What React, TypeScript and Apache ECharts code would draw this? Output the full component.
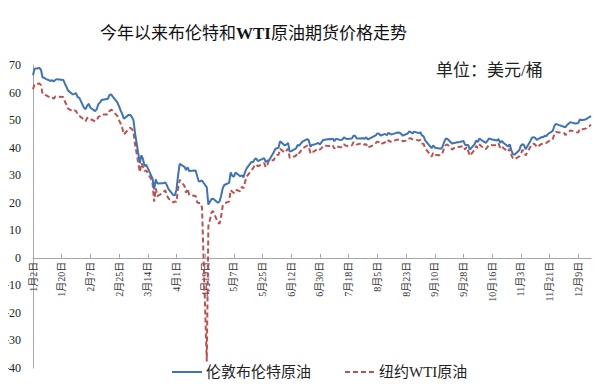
import React, { useEffect, useRef } from "react";
import * as echarts from "echarts";

const tradeDates: string[] = [
  "1-2","1-3","1-6","1-7","1-8","1-9","1-10","1-13","1-14","1-15","1-16","1-17","1-21","1-22","1-23","1-24","1-27","1-28","1-29","1-30","1-31",
  "2-3","2-4","2-5","2-6","2-7","2-10","2-11","2-12","2-13","2-14","2-18","2-19","2-20","2-21","2-24","2-25","2-26","2-27","2-28",
  "3-2","3-3","3-4","3-5","3-6","3-9","3-10","3-11","3-12","3-13","3-16","3-17","3-18","3-19","3-20","3-23","3-24","3-25","3-26","3-27","3-30","3-31",
  "4-1","4-2","4-3","4-6","4-7","4-8","4-9","4-13","4-14","4-15","4-16","4-17","4-20","4-21","4-22","4-23","4-24","4-27","4-28","4-29","4-30",
  "5-1","5-4","5-5","5-6","5-7","5-8","5-11","5-12","5-13","5-14","5-15","5-18","5-19","5-20","5-21","5-22","5-26","5-27","5-28","5-29",
  "6-1","6-2","6-3","6-4","6-5","6-8","6-9","6-10","6-11","6-12","6-15","6-16","6-17","6-18","6-19","6-22","6-23","6-24","6-25","6-26","6-29","6-30",
  "7-1","7-2","7-6","7-7","7-8","7-9","7-10","7-13","7-14","7-15","7-16","7-17","7-20","7-21","7-22","7-23","7-24","7-27","7-28","7-29","7-30","7-31",
  "8-3","8-4","8-5","8-6","8-7","8-10","8-11","8-12","8-13","8-14","8-17","8-18","8-19","8-20","8-21","8-24","8-25","8-26","8-27","8-28","8-31",
  "9-1","9-2","9-3","9-4","9-8","9-9","9-10","9-11","9-14","9-15","9-16","9-17","9-18","9-21","9-22","9-23","9-24","9-25","9-28","9-29","9-30",
  "10-1","10-2","10-5","10-6","10-7","10-8","10-9","10-12","10-13","10-14","10-15","10-16","10-19","10-20","10-21","10-22","10-23","10-26","10-27","10-28","10-29","10-30",
  "11-2","11-3","11-4","11-5","11-6","11-9","11-10","11-11","11-12","11-13","11-16","11-17","11-18","11-19","11-20","11-23","11-24","11-25","11-27","11-30",
  "12-1","12-2","12-3","12-4","12-7","12-8","12-9","12-10","12-11","12-14","12-15","12-16","12-17",
];

const brentPrices: number[] = [
  66.25,68.6,68.91,68.27,65.44,65.37,64.98,64.2,64.49,64.0,64.62,64.85,64.59,63.21,62.04,60.69,59.32,59.51,59.81,58.29,58.16,
  54.45,53.96,55.28,55.93,54.47,53.27,54.01,55.79,56.34,57.32,57.75,59.12,59.31,58.5,56.3,54.95,53.43,52.18,50.52,
  51.9,51.86,51.13,49.99,45.27,34.36,37.22,35.79,33.22,33.85,30.05,28.73,24.88,28.47,26.98,27.03,27.15,27.39,26.34,24.93,22.76,22.74,
  24.74,29.94,34.11,33.05,31.87,32.84,31.48,31.74,29.6,27.69,27.82,28.08,25.57,19.33,20.37,21.33,21.44,19.99,20.46,22.54,25.27,
  26.44,27.2,30.97,29.72,29.46,30.97,29.63,29.98,29.19,31.13,32.5,34.81,34.65,35.75,36.06,35.13,36.17,34.74,35.29,35.33,
  38.32,39.57,39.79,39.99,42.3,40.8,41.18,41.73,38.55,38.73,39.72,40.96,40.71,41.51,42.19,43.08,42.63,40.31,41.05,41.02,41.71,41.15,
  42.03,42.8,43.1,43.08,43.29,42.35,43.24,42.72,42.9,43.79,43.37,43.14,43.28,44.32,44.29,43.31,43.34,43.41,43.22,43.75,42.94,43.3,
  44.15,44.43,45.17,45.09,44.4,44.99,44.5,45.43,44.96,44.8,45.37,45.46,45.37,44.9,44.35,45.13,45.86,45.64,45.09,45.81,45.28,
  45.58,44.43,44.07,42.66,39.78,40.79,40.06,39.83,39.61,40.53,42.22,43.3,43.15,41.44,41.72,41.77,41.94,41.92,42.43,41.03,40.95,
  40.93,39.27,41.29,42.65,41.99,43.34,42.85,41.72,42.45,43.32,43.16,42.93,42.62,43.16,41.73,42.46,41.77,40.46,41.2,39.12,37.65,37.46,
  39.01,40.71,41.23,40.93,39.45,42.4,43.61,43.8,43.53,42.78,43.82,43.75,44.34,44.2,44.96,46.06,47.86,48.61,48.18,47.59,
  47.42,48.25,48.71,49.25,48.79,48.84,48.86,50.25,49.97,50.29,50.76,51.08,51.5,
];

const wtiPrices: number[] = [
  61.18,63.05,63.27,62.7,59.61,59.56,59.04,58.08,58.23,57.81,58.52,58.54,58.38,56.74,55.59,54.19,53.14,53.48,53.33,52.14,51.56,
  50.11,49.61,50.75,50.95,50.32,49.57,49.94,51.17,51.42,52.05,52.05,53.29,53.78,53.38,51.43,49.9,48.73,47.09,44.76,
  46.75,47.18,46.78,45.9,41.28,31.13,34.36,32.98,31.5,31.73,28.7,26.95,20.37,25.22,22.43,23.36,24.01,24.49,22.6,21.51,20.09,20.48,
  20.31,25.32,28.34,26.08,23.63,25.09,22.76,22.41,20.11,19.87,19.87,18.27,-37.63,11.57,13.78,16.5,16.94,12.78,12.34,15.06,18.84,
  19.78,20.39,24.56,23.99,23.55,24.74,24.14,25.78,25.29,27.56,29.43,31.82,32.5,33.49,33.92,33.25,34.35,32.81,33.71,35.49,
  35.44,36.81,37.29,37.41,39.55,38.19,38.94,39.6,36.34,36.26,37.12,38.38,37.96,38.84,39.75,40.73,40.37,38.01,38.72,38.49,39.7,39.27,
  39.82,40.65,40.63,40.62,40.9,39.62,40.55,40.1,40.29,41.2,40.75,40.59,40.81,41.96,41.9,41.07,41.29,41.6,41.04,41.27,39.92,40.27,
  41.01,41.7,42.19,41.95,41.22,41.94,41.61,42.67,42.24,42.01,42.89,42.89,42.93,42.82,42.34,42.62,43.35,43.39,43.04,42.97,42.61,
  42.76,41.51,41.37,39.77,36.76,38.05,37.3,37.33,37.26,38.28,40.16,40.97,41.11,39.31,39.8,39.93,40.31,40.25,40.6,39.29,40.22,
  38.72,37.05,39.22,40.67,39.95,41.19,40.6,39.43,40.2,41.04,40.96,40.88,40.83,41.46,40.03,40.64,39.85,38.56,39.57,37.39,36.17,35.79,
  36.81,37.66,39.15,38.79,37.14,40.29,41.36,41.45,41.12,40.13,41.34,41.43,41.82,41.74,42.15,43.06,44.91,45.71,45.53,45.34,
  44.55,45.28,45.64,46.26,45.76,45.6,45.52,46.78,46.57,46.99,47.62,47.82,48.36,
];

const seriesNames = ["伦敦布伦特原油", "纽约WTI原油"];
const titleText = "今年以来布伦特和WTI原油期货价格走势";
const unitText = "单位：美元/桶";
const yTicks = { min: -40, max: 70, interval: 10 };
const xTickStep = 18; // days between date labels
const xEndDate = "12-17";

const YEAR = 2020;
const dayOffset = (md: string) => {
  const [m, d] = md.split("-").map(Number);
  return Math.round((Date.UTC(YEAR, m - 1, d) - Date.UTC(YEAR, 0, 2)) / 86400000);
};
const offsetLabel = (off: number) => {
  const dt = new Date(Date.UTC(YEAR, 0, 2 + off));
  return `${dt.getUTCMonth() + 1}月${dt.getUTCDate()}日`;
};

const SERIF = "'Liberation Serif', 'Noto Sans CJK SC', serif";
const BLUE = "#3e73b9";
const RED = "#c0504d";

const W = 605;
const H = 388;
const GRID = { left: 33, right: 14, top: 65, bottom: 20 };

export default function App() {
  const ref = useRef<HTMLDivElement>(null);
  useEffect(() => {
    if (!ref.current) return;
    const chart = echarts.init(ref.current, null, { renderer: "svg" });
    const xMax = dayOffset(xEndDate);
    const tickVals: number[] = [];
    for (let v = 0; v <= xMax; v += xTickStep) tickVals.push(v);
    const brentData = tradeDates.map((d, i) => [dayOffset(d), brentPrices[i]]);
    const wtiData = tradeDates.map((d, i) => [dayOffset(d), wtiPrices[i]]);
    const parts = titleText.split("WTI");
    const plotH = H - GRID.top - GRID.bottom;
    const zeroFromBottom = ((0 - yTicks.min) / (yTicks.max - yTicks.min)) * plotH;
    const legendY = 372;
    chart.setOption({
      animation: false,
      backgroundColor: "#ffffff",
      title: {
        text: `{a|${parts[0]}}{b|WTI}{a|${parts[1]}}`,
        left: 95,
        top: 20,
        textStyle: {
          rich: {
            a: { fontSize: 17, fontFamily: SERIF, color: "#111", fontWeight: "normal" },
            b: { fontSize: 17, fontFamily: SERIF, color: "#111", fontWeight: "bold" },
          },
        },
      },
      graphic: [
        {
          type: "text",
          left: 436,
          top: 62,
          style: { text: unitText, fontSize: 17, fontFamily: SERIF, fill: "#222" },
        },
        {
          type: "line",
          shape: { x1: 172, y1: legendY, x2: 202, y2: legendY },
          style: { stroke: BLUE, lineWidth: 2 },
        },
        {
          type: "text",
          x: 206,
          y: legendY,
          style: { text: seriesNames[0], fontSize: 15, fontFamily: SERIF, fill: "#222", verticalAlign: "middle" },
        },
        {
          type: "line",
          shape: { x1: 345, y1: legendY, x2: 376, y2: legendY },
          style: { stroke: RED, lineWidth: 2, lineDash: [5, 3] },
        },
        {
          type: "text",
          x: 379,
          y: legendY,
          style: { text: seriesNames[1], fontSize: 15, fontFamily: SERIF, fill: "#222", verticalAlign: "middle" },
        },
      ],
      grid: { ...GRID, containLabel: false, outerBoundsMode: "none" },
      xAxis: {
        type: "value",
        min: 0,
        max: xMax,
        position: "bottom",
        offset: -zeroFromBottom,
        axisLine: { onZero: false, lineStyle: { color: "#a6a6a6", width: 1 } },
        axisTick: { show: true, inside: true, length: 4, customValues: tickVals, lineStyle: { color: "#a6a6a6" } },
        axisLabel: {
          rotate: 90,
          margin: 4,
          fontSize: 10,
          fontFamily: SERIF,
          color: "#333",
          customValues: tickVals,
          formatter: (v: number) => offsetLabel(v),
        },
        splitLine: { show: false },
      },
      yAxis: {
        type: "value",
        min: yTicks.min,
        max: yTicks.max,
        interval: yTicks.interval,
        axisLine: { show: true, lineStyle: { color: "#a6a6a6", width: 1 } },
        axisTick: { show: false },
        axisLabel: { fontSize: 12, fontFamily: SERIF, color: "#222", margin: 12 },
        splitLine: { show: false },
      },
      series: [
        {
          name: seriesNames[0],
          type: "line",
          data: brentData,
          symbol: "none",
          lineStyle: { color: BLUE, width: 2 },
          itemStyle: { color: BLUE },
          z: 3,
        },
        {
          name: seriesNames[1],
          type: "line",
          data: wtiData,
          symbol: "none",
          lineStyle: { color: RED, width: 2, type: [5, 3] },
          itemStyle: { color: RED },
          z: 2,
        },
      ],
    });
    return () => chart.dispose();
  }, []);
  return <div ref={ref} style={{ width: W, height: H, margin: -8 }} />;
}
